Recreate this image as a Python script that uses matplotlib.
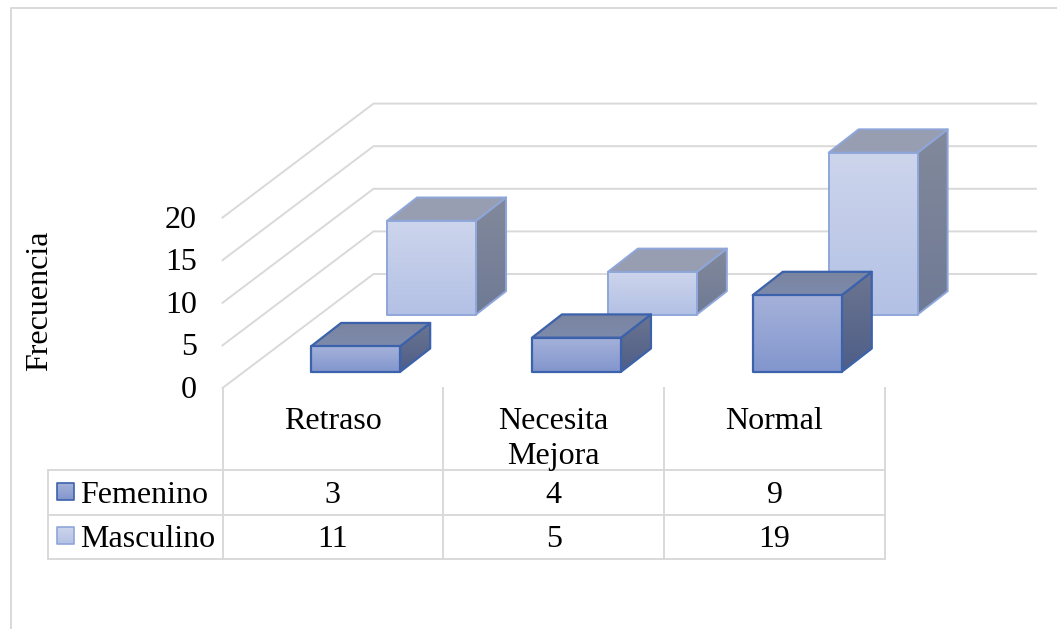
# -*- coding: utf-8 -*-
"""
Oblique 3D column chart with data table, drawn on a pixel-sized 2D axes.
"""
import numpy as np
import matplotlib
matplotlib.use('Agg')
import matplotlib.pyplot as plt
from matplotlib.colors import LinearSegmentedColormap
from matplotlib.patches import Polygon

# data
ar_st_categories = ['Retraso', 'Necesita\nMejora', 'Normal']
ar_st_series = ['Femenino', 'Masculino']
ar_it_femenino = [3, 4, 9]
ar_it_masculino = [11, 5, 19]
ar_it_yticks = [0, 5, 10, 15, 20]

# scales, in pixels of the 1057x629 figure
fl_x0, fl_y0 = 222.5, 388.0
fl_cat_w = 220.8
fl_unit = 8.52
fl_depth_x, fl_depth_y = 151.0, -114.0
fl_grid_right = 1036
fl_bar_w = 89.0
fl_gap_left = 67.2
fl_bar_dx, fl_bar_dy = 30.0, -23.3
st_grid = '#D9D9D9'
fl_grid_lw = 1.4

plt.rcParams['font.family'] = ['Liberation Serif', 'DejaVu Serif']

fig = plt.figure(figsize=(10.57, 6.29), dpi=100)
ax = fig.add_axes([0, 0, 1, 1])
ax.set_xlim(0, 1057)
ax.set_ylim(629, 0)
ax.set_axis_off()


def project(val, depth):
    # value and depth (0 front to 1 back) on the side wall to pixels
    return (fl_x0 + depth * fl_depth_x,
            fl_y0 - val * fl_unit + depth * fl_depth_y)


def shade(ar_xy, st_top, st_bottom, st_edge, fl_lw, it_z):
    # polygon with a vertical gradient and an outline
    ar_xy = np.array(ar_xy)
    cmap = LinearSegmentedColormap.from_list('g', [st_top, st_bottom])
    im = ax.imshow(np.linspace(0, 1, 64).reshape(-1, 1), cmap=cmap, aspect='auto',
                   extent=(ar_xy[:, 0].min(), ar_xy[:, 0].max(), ar_xy[:, 1].max(), ar_xy[:, 1].min()),
                   zorder=it_z)
    poly = Polygon(ar_xy, closed=True, facecolor='none', edgecolor=st_edge, lw=fl_lw,
                   joinstyle='round', zorder=it_z + 0.1)
    ax.add_patch(poly)
    im.set_clip_path(poly)


def draw_bar(cat, val, fl_floor_y, dc_col, it_z):
    # front lower left corner follows from the floor row of the series
    fl_depth = (fl_y0 - fl_floor_y) / -fl_depth_y
    x0 = fl_x0 + cat * fl_cat_w + fl_gap_left + fl_depth * fl_depth_x
    x1 = x0 + fl_bar_w
    y0 = fl_floor_y
    y1 = fl_floor_y - val * fl_unit
    dx, dy = fl_bar_dx, fl_bar_dy
    shade([(x1, y1), (x1 + dx, y1 + dy), (x1 + dx, y0 + dy), (x1, y0)],
          dc_col['side_t'], dc_col['side_b'], dc_col['edge'], dc_col['lw'], it_z)
    shade([(x0, y1), (x0 + dx, y1 + dy), (x1 + dx, y1 + dy), (x1, y1)],
          dc_col['top_t'], dc_col['top_b'], dc_col['edge'], dc_col['lw'], it_z + 0.2)
    shade([(x0, y0), (x0, y1), (x1, y1), (x1, y0)],
          dc_col['front_t'], dc_col['front_b'], dc_col['edge'], dc_col['lw'], it_z + 0.4)


dc_fem = {'front_t': '#A5B1DA', 'front_b': '#8296CD', 'top_t': '#78849F', 'top_b': '#7E8AAB',
          'side_t': '#6C7590', 'side_b': '#4E5E88', 'edge': '#3C62AC', 'lw': 1.6}
dc_mas = {'front_t': '#CDD5EC', 'front_b': '#B3C1E5', 'top_t': '#989EB2', 'top_b': '#989EB2',
          'side_t': '#82899B', 'side_b': '#6F7A95', 'edge': '#8FA6DA', 'lw': 1.4}

# outer chart border
ax.plot([10.7, 10.7, 1057], [629, 8, 8], color=st_grid, lw=fl_grid_lw, zorder=1)

# gridlines along the side wall and the back wall
for it_tick in ar_it_yticks:
    ar_pts = [project(it_tick, 0), project(it_tick, 1), (fl_grid_right, project(it_tick, 1)[1])]
    ax.plot(*zip(*ar_pts), color=st_grid, lw=fl_grid_lw, zorder=2, solid_joinstyle='miter')
    ax.text(197, project(it_tick, 0)[1] - 1, str(it_tick), ha='right', va='center_baseline',
            fontsize=23, color='black')

# columns, back row first
for it_cat, it_val in enumerate(ar_it_masculino):
    draw_bar(it_cat, it_val, 314.5, dc_mas, 3 + it_cat)
for it_cat, it_val in enumerate(ar_it_femenino):
    draw_bar(it_cat, it_val, 371.8, dc_fem, 7 + it_cat)

ax.text(40, 301, 'Frecuencia', rotation=90, ha='center', va='center', fontsize=23)

# data table
fl_row0, fl_row1, fl_row2 = 470.0, 514.7, 558.7
fl_left = 47.5
for it_i in range(4):
    fl_x = fl_x0 + it_i * fl_cat_w
    ax.plot([fl_x, fl_x], [fl_y0, fl_row2], color=st_grid, lw=fl_grid_lw, zorder=2)
ax.plot([fl_left, fl_left], [fl_row0, fl_row2], color=st_grid, lw=fl_grid_lw, zorder=2)
for fl_y in [fl_row0, fl_row1, fl_row2]:
    ax.plot([fl_left, fl_x0 + 3 * fl_cat_w], [fl_y, fl_y], color=st_grid, lw=fl_grid_lw, zorder=2)

for it_i, st_cat in enumerate(ar_st_categories):
    fl_xc = fl_x0 + (it_i + 0.5) * fl_cat_w
    for it_l, st_line in enumerate(st_cat.split('\n')):
        ax.text(fl_xc, 418 + it_l * 35, st_line, ha='center', va='center_baseline', fontsize=23)
    ax.text(fl_xc, 492, str(ar_it_femenino[it_i]), ha='center', va='center_baseline', fontsize=23)
    ax.text(fl_xc, 536, str(ar_it_masculino[it_i]), ha='center', va='center_baseline', fontsize=23)

# legend keys and series names in the first table column
for st_name, fl_yc, dc_col in zip(ar_st_series, [491.7, 535.7], [dc_fem, dc_mas]):
    shade([(57, fl_yc - 8.5), (74, fl_yc - 8.5), (74, fl_yc + 8.5), (57, fl_yc + 8.5)],
          dc_col['front_t'], dc_col['front_b'], dc_col['edge'], 1.2, 12)
    ax.text(80.5, fl_yc, st_name, ha='left', va='center_baseline', fontsize=23)

ax.set_xlim(0, 1057)
ax.set_ylim(629, 0)
fig.savefig('out.png', dpi=100)
